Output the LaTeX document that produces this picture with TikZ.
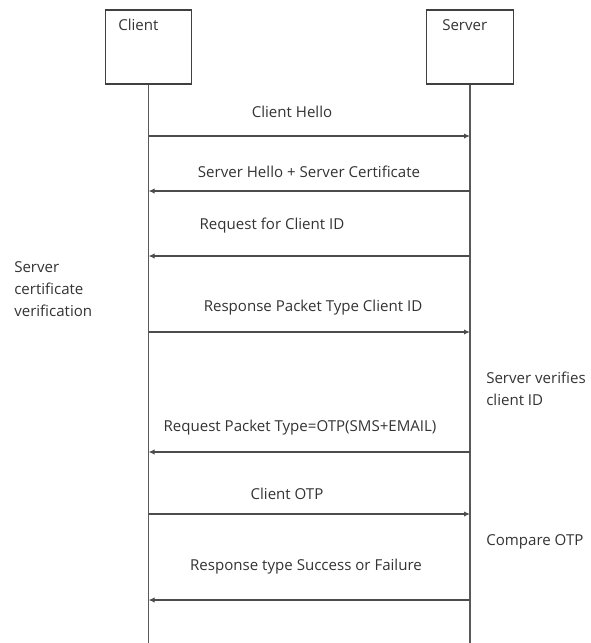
\documentclass[tikz,border=0pt]{standalone}
\usepackage{fontspec}
\setmainfont{Open Sans}
\usetikzlibrary{arrows.meta}

\begin{document}
\begin{tikzpicture}[x=0.75pt, y=-0.75pt,
    party/.style={draw=black!75, line width=0.8pt, minimum width=65pt, minimum height=55.5pt, inner sep=0pt},
    life/.style={draw=black!65, line width=0.9pt},
    msg/.style={draw=black!70, line width=0.9pt, -{Latex[length=4.5pt, width=4pt]}},
    txt/.style={font=\fontsize{11.3}{13}\selectfont, text=black!80, inner sep=0pt},
    note/.style={txt, align=left, anchor=north west, font=\fontsize{11.3}{16.5}\selectfont}]
    \useasboundingbox (0,0) rectangle (590,643);

    % Boxes
    \node [party] (client) at (148.5,47) {};
    \node [party] (server) at (470,47) {};
    \node [txt, anchor=north west] (clientname) at (118,19) {Client};
    \node [txt, anchor=north west] (servername) at (442,19) {Server};

    % Lifelines
    \coordinate (bottom) at (0,643);
    \draw [life] (client.south) -- (client.south |- bottom);
    \draw [life] (server.south) -- (server.south |- bottom);

    % Message levels
    \coordinate (m1) at (0,136);
    \coordinate (m2) at (0,191);
    \coordinate (m3) at (0,256);
    \coordinate (m4) at (0,332);
    \coordinate (m5) at (0,452);
    \coordinate (m6) at (0,514);
    \coordinate (m7) at (0,600);

    % Messages
    \draw [msg] (client |- m1) -- (server |- m1);
    \node [txt] (hello) at (292,112) {Client Hello};
    \draw [msg] (server |- m2) -- (client |- m2);
    \node [txt] (cert) at (309,172) {Server Hello + Server Certificate};
    \draw [msg] (server |- m3) -- (client |- m3);
    \node [txt] (reqid) at (272,226) {Request for Client ID};
    \draw [msg] (client |- m4) -- (server |- m4);
    \node [txt] (respid) at (313,308) {Response Packet Type Client ID};
    \draw [msg] (server |- m5) -- (client |- m5);
    \node [txt] (reqotp) at (300,428) {Request Packet Type=OTP(SMS+EMAIL)};
    \draw [msg] (client |- m6) -- (server |- m6);
    \node [txt] (otp) at (287,494) {Client OTP};
    \draw [msg] (server |- m7) -- (client |- m7);
    \node [txt] (result) at (306,567) {Response type Success or Failure};

    % Notes
    \node [note] (verify) at (14,261) {Server\\certificate\\verification};
    \node [note] (checkid) at (486,372) {Server verifies\\client ID};
    \node [note] (compare) at (486,534) {Compare OTP};
\end{tikzpicture}
\end{document}
